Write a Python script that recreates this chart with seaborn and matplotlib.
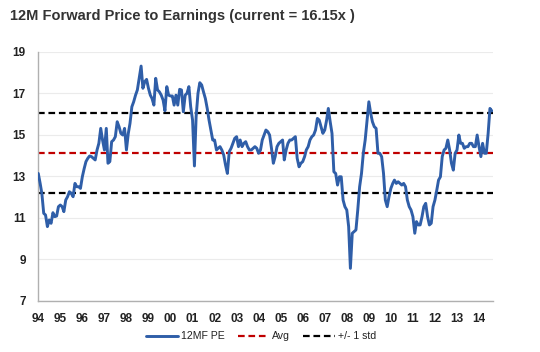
import numpy as np
import pandas as pd
import matplotlib
matplotlib.use("Agg")
import matplotlib.pyplot as plt
import seaborn as sns

# ---- data (monthly, Jan 1994 - Aug 2014) ----
start_month = "1994-01-01"
pe_values = [
    13.14, 12.66, 12.18, 11.22, 11.14, 10.58, 10.90, 10.74, 11.25, 11.06, 11.09, 11.54,
    11.62, 11.54, 11.30, 11.86, 12.02, 12.26, 12.18, 12.02, 12.66, 12.50, 12.50, 12.42,
    12.98, 13.38, 13.71, 13.87, 13.98, 13.95, 13.87, 13.79, 14.27, 14.59, 15.31, 14.75,
    14.27, 15.31, 13.63, 13.71, 14.67, 14.75, 14.91, 15.63, 15.39, 15.07, 14.99, 15.31,
    14.27, 15.07, 15.55, 16.35, 16.59, 16.91, 17.16, 17.72, 18.31, 17.24, 17.56, 17.67,
    17.24, 16.91, 16.75, 16.43, 17.72, 17.16, 17.07, 16.91, 16.67, 16.16, 17.32, 16.91,
    16.87, 16.87, 16.43, 16.91, 16.43, 17.19, 17.16, 16.11, 16.91, 17.00, 17.32, 16.35,
    15.71, 13.50, 15.87, 17.00, 17.51, 17.40, 17.07, 16.75, 16.27, 15.71, 15.23, 14.75,
    14.75, 14.27, 14.35, 14.43, 14.27, 14.03, 13.55, 13.14, 14.19, 14.35, 14.59, 14.83,
    14.91, 14.43, 14.75, 14.43, 14.59, 14.67, 14.43, 14.27, 14.27, 14.35, 14.43, 14.35,
    14.11, 14.27, 14.75, 14.99, 15.23, 15.15, 14.99, 14.35, 13.63, 13.95, 14.43, 14.59,
    14.67, 14.75, 13.79, 14.27, 14.59, 14.75, 14.75, 14.83, 14.91, 13.87, 13.46, 13.63,
    13.71, 13.95, 14.27, 14.43, 14.75, 14.91, 14.99, 15.23, 15.79, 15.71, 15.39, 15.07,
    15.23, 15.71, 16.27, 15.63, 15.07, 13.22, 13.14, 12.58, 12.98, 12.98, 11.86, 11.54,
    11.38, 10.58, 8.57, 10.26, 10.34, 10.42, 11.38, 12.50, 13.14, 14.11, 14.75, 15.63,
    16.59, 16.03, 15.63, 15.39, 15.31, 14.11, 14.11, 13.95, 13.14, 11.86, 11.54, 12.02,
    12.42, 12.66, 12.82, 12.66, 12.74, 12.66, 12.58, 12.66, 12.50, 11.86, 11.54, 11.38,
    11.06, 10.26, 10.82, 10.66, 10.66, 11.06, 11.54, 11.70, 11.06, 10.66, 10.74, 11.54,
    11.86, 12.34, 12.82, 12.98, 13.95, 14.27, 14.35, 14.75, 14.27, 13.63, 13.30, 14.11,
    14.27, 14.99, 14.59, 14.59, 14.35, 14.43, 14.43, 14.59, 14.59, 14.43, 14.43, 14.99,
    14.43, 13.95, 14.59, 14.11, 14.11, 15.07, 16.27, 16.15,
]
avg_value = 14.12
std_value = 1.93
y_ticks = [7, 9, 11, 13, 15, 17, 19]
year_labels = ["94", "95", "96", "97", "98", "99", "00", "01", "02", "03", "04",
               "05", "06", "07", "08", "09", "10", "11", "12", "13", "14"]
title_text = "12M Forward Price to Earnings (current = 16.15x )"

df = pd.DataFrame({
    "date": pd.date_range(start_month, periods=len(pe_values), freq="MS"),
    "pe": pe_values,
})

sns.set_theme(style="white")
plt.rcParams["font.family"] = ["Liberation Sans", "DejaVu Sans"]

fig = plt.figure(figsize=(5.40, 3.52), dpi=100)
ax = fig.add_axes([0.0709, 0.145, 0.842, 0.708])

blue = "#2F5EA8"
red = "#C00000"

sns.lineplot(data=df, x="date", y="pe", ax=ax, color=blue, linewidth=2.1,
             label="12MF PE", zorder=3)
ax.axhline(avg_value, color=red, linewidth=1.6, dashes=(3.0, 1.7),
           label="Avg", zorder=2)
ax.axhline(avg_value + std_value, color="black", linewidth=1.6, dashes=(3.0, 1.7),
           label="+/- 1 std", zorder=2)
ax.axhline(avg_value - std_value, color="black", linewidth=1.6, dashes=(3.0, 1.7),
           zorder=2)

ax.set_ylim(7, 19)
ax.set_yticks(y_ticks)
ax.set_xlim(pd.Timestamp("1994-01-01"), pd.Timestamp("2014-08-20"))
year_ticks = [pd.Timestamp(f"{1994 + i}-01-01") for i in range(len(year_labels))]
ax.set_xticks(year_ticks)
ax.set_xticklabels(year_labels)

ax.set_xlabel("")
ax.set_ylabel("")
ax.grid(axis="y", color="#ebebeb", linewidth=0.8)
ax.set_axisbelow(True)

for s in ["top", "right"]:
    ax.spines[s].set_visible(False)
for s in ["left", "bottom"]:
    ax.spines[s].set_color("#b0b0b0")
    ax.spines[s].set_linewidth(1.0)

ax.tick_params(axis="both", which="major", direction="out", length=4, width=0.8,
               color="#b0b0b0", labelsize=8.5, labelcolor="#222222")
ax.tick_params(axis="x", pad=5)
ax.tick_params(axis="y", pad=5)
for lab in ax.get_yticklabels() + ax.get_xticklabels():
    lab.set_fontweight("bold")

leg = ax.legend(loc="upper center", bbox_to_anchor=(0.49, -0.105), ncol=3,
                frameon=False, fontsize=7.6, handlelength=3.0, handletextpad=0.3,
                columnspacing=1.2, borderaxespad=0)
for t in leg.get_texts():
    t.set_color("#222222")

fig.text(10 / 540, 1 - 16 / 352, title_text, fontsize=10.5, fontweight="bold",
         color="#333333", ha="left", va="center")

fig.savefig("out.png", dpi=100)
